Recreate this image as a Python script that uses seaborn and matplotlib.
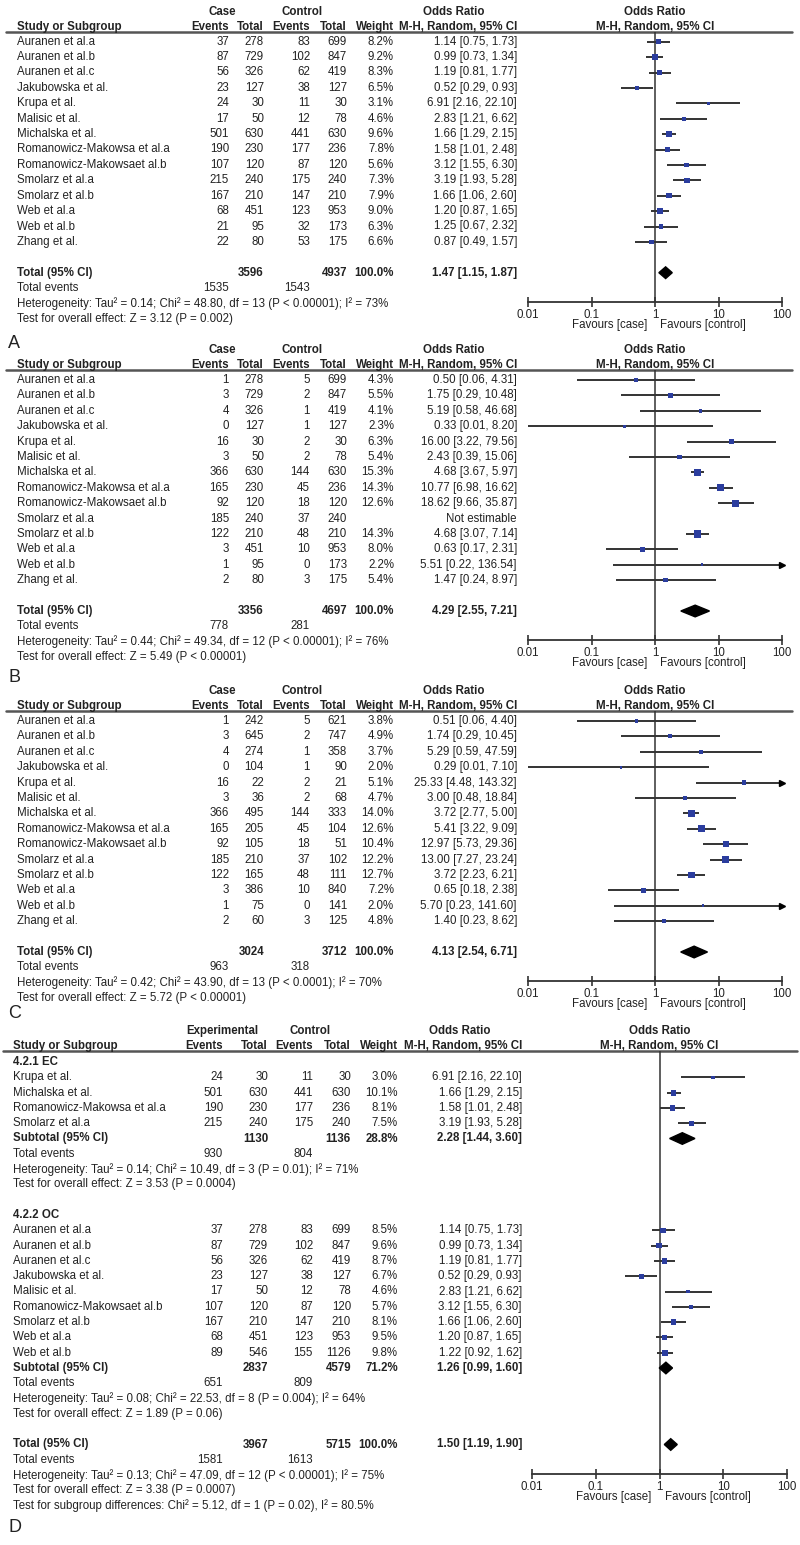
import numpy as np
import pandas as pd
import matplotlib
matplotlib.use("Agg")
import matplotlib.pyplot as plt
import seaborn as sns

W, H = 800, 1545
INK = "#222222"
LINE = "#333333"
BLUE = "#2b3d9e"
FS = 8.3

sns.set_theme(style="white")
plt.rcParams["font.family"] = ["Liberation Sans", "DejaVu Sans"]
plt.rcParams["font.size"] = FS

# --- shared study names (panels A-C) ---
studies = ["Auranen et al.a", "Auranen et al.b", "Auranen et al.c", "Jakubowska et al.",
           "Krupa et al.", "Malisic et al.", "Michalska et al.", "Romanowicz-Makowsa et al.a",
           "Romanowicz-Makowsaet al.b", "Smolarz et al.a", "Smolarz et al.b", "Web et al.a",
           "Web et al.b", "Zhang et al."]

# --- panel A ---
a_case_events = [37, 87, 56, 23, 24, 17, 501, 190, 107, 215, 167, 68, 21, 22]
a_case_total = [278, 729, 326, 127, 30, 50, 630, 230, 120, 240, 210, 451, 95, 80]
a_ctrl_events = [83, 102, 62, 38, 11, 12, 441, 177, 87, 175, 147, 123, 32, 53]
a_ctrl_total = [699, 847, 419, 127, 30, 78, 630, 236, 120, 240, 210, 953, 173, 175]
a_weight = [8.2, 9.2, 8.3, 6.5, 3.1, 4.6, 9.6, 7.8, 5.6, 7.3, 7.9, 9.0, 6.3, 6.6]
a_or = [1.14, 0.99, 1.19, 0.52, 6.91, 2.83, 1.66, 1.58, 3.12, 3.19, 1.66, 1.20, 1.25, 0.87]
a_lo = [0.75, 0.73, 0.81, 0.29, 2.16, 1.21, 1.29, 1.01, 1.55, 1.93, 1.06, 0.87, 0.67, 0.49]
a_hi = [1.73, 1.34, 1.77, 0.93, 22.10, 6.62, 2.15, 2.48, 6.30, 5.28, 2.60, 1.65, 2.32, 1.57]
a_total = [3596, 4937, 100.0, 1.47, 1.15, 1.87]
a_events = [1535, 1543]
a_notes = ["Heterogeneity: Tau² = 0.14; Chi² = 48.80, df = 13 (P < 0.00001); I² = 73%",
           "Test for overall effect: Z = 3.12 (P = 0.002)"]

# --- panel B ---
b_case_events = [1, 3, 4, 0, 16, 3, 366, 165, 92, 185, 122, 3, 1, 2]
b_case_total = [278, 729, 326, 127, 30, 50, 630, 230, 120, 240, 210, 451, 95, 80]
b_ctrl_events = [5, 2, 1, 1, 2, 2, 144, 45, 18, 37, 48, 10, 0, 3]
b_ctrl_total = [699, 847, 419, 127, 30, 78, 630, 236, 120, 240, 210, 953, 173, 175]
b_weight = [4.3, 5.5, 4.1, 2.3, 6.3, 5.4, 15.3, 14.3, 12.6, np.nan, 14.3, 8.0, 2.2, 5.4]
b_or = [0.50, 1.75, 5.19, 0.33, 16.00, 2.43, 4.68, 10.77, 18.62, np.nan, 4.68, 0.63, 5.51, 1.47]
b_lo = [0.06, 0.29, 0.58, 0.01, 3.22, 0.39, 3.67, 6.98, 9.66, np.nan, 3.07, 0.17, 0.22, 0.24]
b_hi = [4.31, 10.48, 46.68, 8.20, 79.56, 15.06, 5.97, 16.62, 35.87, np.nan, 7.14, 2.31, 136.54, 8.97]
b_total = [3356, 4697, 100.0, 4.29, 2.55, 7.21]
b_events = [778, 281]
b_notes = ["Heterogeneity: Tau² = 0.44; Chi² = 49.34, df = 12 (P < 0.00001); I² = 76%",
           "Test for overall effect: Z = 5.49 (P < 0.00001)"]

# --- panel C ---
c_case_events = [1, 3, 4, 0, 16, 3, 366, 165, 92, 185, 122, 3, 1, 2]
c_case_total = [242, 645, 274, 104, 22, 36, 495, 205, 105, 210, 165, 386, 75, 60]
c_ctrl_events = [5, 2, 1, 1, 2, 2, 144, 45, 18, 37, 48, 10, 0, 3]
c_ctrl_total = [621, 747, 358, 90, 21, 68, 333, 104, 51, 102, 111, 840, 141, 125]
c_weight = [3.8, 4.9, 3.7, 2.0, 5.1, 4.7, 14.0, 12.6, 10.4, 12.2, 12.7, 7.2, 2.0, 4.8]
c_or = [0.51, 1.74, 5.29, 0.29, 25.33, 3.00, 3.72, 5.41, 12.97, 13.00, 3.72, 0.65, 5.70, 1.40]
c_lo = [0.06, 0.29, 0.59, 0.01, 4.48, 0.48, 2.77, 3.22, 5.73, 7.27, 2.23, 0.18, 0.23, 0.23]
c_hi = [4.40, 10.45, 47.59, 7.10, 143.32, 18.84, 5.00, 9.09, 29.36, 23.24, 6.21, 2.38, 141.60, 8.62]
c_total = [3024, 3712, 100.0, 4.13, 2.54, 6.71]
c_events = [963, 318]
c_notes = ["Heterogeneity: Tau² = 0.42; Chi² = 43.90, df = 13 (P < 0.0001); I² = 70%",
           "Test for overall effect: Z = 5.72 (P < 0.00001)"]

# --- panel D, subgroup 4.2.1 EC ---
ec_studies = ["Krupa et al.", "Michalska et al.", "Romanowicz-Makowsa et al.a", "Smolarz et al.a"]
ec_case_events = [24, 501, 190, 215]
ec_case_total = [30, 630, 230, 240]
ec_ctrl_events = [11, 441, 177, 175]
ec_ctrl_total = [30, 630, 236, 240]
ec_weight = [3.0, 10.1, 8.1, 7.5]
ec_or = [6.91, 1.66, 1.58, 3.19]
ec_lo = [2.16, 1.29, 1.01, 1.93]
ec_hi = [22.10, 2.15, 2.48, 5.28]
ec_total = [1130, 1136, 28.8, 2.28, 1.44, 3.60]
ec_events = [930, 804]
ec_notes = ["Heterogeneity: Tau² = 0.14; Chi² = 10.49, df = 3 (P = 0.01); I² = 71%",
            "Test for overall effect: Z = 3.53 (P = 0.0004)"]

# --- panel D, subgroup 4.2.2 OC ---
oc_studies = ["Auranen et al.a", "Auranen et al.b", "Auranen et al.c", "Jakubowska et al.",
              "Malisic et al.", "Romanowicz-Makowsaet al.b", "Smolarz et al.b", "Web et al.a",
              "Web et al.b"]
oc_case_events = [37, 87, 56, 23, 17, 107, 167, 68, 89]
oc_case_total = [278, 729, 326, 127, 50, 120, 210, 451, 546]
oc_ctrl_events = [83, 102, 62, 38, 12, 87, 147, 123, 155]
oc_ctrl_total = [699, 847, 419, 127, 78, 120, 210, 953, 1126]
oc_weight = [8.5, 9.6, 8.7, 6.7, 4.6, 5.7, 8.1, 9.5, 9.8]
oc_or = [1.14, 0.99, 1.19, 0.52, 2.83, 3.12, 1.66, 1.20, 1.22]
oc_lo = [0.75, 0.73, 0.81, 0.29, 1.21, 1.55, 1.06, 0.87, 0.92]
oc_hi = [1.73, 1.34, 1.77, 0.93, 6.62, 6.30, 2.60, 1.65, 1.62]
oc_total = [2837, 4579, 71.2, 1.26, 0.99, 1.60]
oc_events = [651, 809]
oc_notes = ["Heterogeneity: Tau² = 0.08; Chi² = 22.53, df = 8 (P = 0.004); I² = 64%",
            "Test for overall effect: Z = 1.89 (P = 0.06)"]

d_total = [3967, 5715, 100.0, 1.50, 1.19, 1.90]
d_events = [1581, 1613]
d_notes = ["Heterogeneity: Tau² = 0.13; Chi² = 47.09, df = 12 (P < 0.00001); I² = 75%",
           "Test for overall effect: Z = 3.38 (P = 0.0007)",
           "Test for subgroup differences: Chi² = 5.12, df = 1 (P = 0.02), I² = 80.5%"]

tick_vals = [0.01, 0.1, 1, 10, 100]
tick_labels = ["0.01", "0.1", "1", "10", "100"]

COLS_ABC = dict(study=17, ev1=229, tot1=264, ev2=310, tot2=347, wt=394, orr=517,
                grp1=222, grp2=302, orhdr=454, line=(6, 792), fx=(528, 782))
COLS_D = dict(study=13, ev1=223, tot1=268, ev2=313, tot2=351, wt=398, orr=522,
              grp1=222, grp2=310, orhdr=460, line=(3, 797), fx=(532, 787))


def px_axes(fig, left, top, width, height):
    return fig.add_axes([left / W, 1 - (top + height) / H, width / W, height / H])


def txt(ax, x, y, s, ha="right", bold=False):
    ax.text(x, y, s, ha=ha, va="center", fontsize=FS, color=INK,
            fontweight="bold" if bold else "normal", clip_on=False)


def or_text(o, l, h):
    if np.isnan(o):
        return "Not estimable"
    return f"{o:.2f} [{l:.2f}, {h:.2f}]"


def make_table(fig, y0, step, r_top, r_bot):
    ax = px_axes(fig, 0, y0 + r_top * step, W, (r_bot - r_top) * step)
    ax.set_xlim(0, W)
    ax.set_ylim(r_bot, r_top)
    ax.axis("off")
    return ax


def draw_header(ax, cols, grp_label, r_line):
    r1, r2 = r_line - 1.32, r_line - 0.32
    fx = cols["fx"]
    mid = (fx[0] + fx[1]) / 2
    txt(ax, cols["grp1"], r1, grp_label, ha="center", bold=True)
    txt(ax, cols["grp2"], r1, "Control", ha="center", bold=True)
    txt(ax, cols["orhdr"], r1, "Odds Ratio", ha="center", bold=True)
    txt(ax, mid, r1, "Odds Ratio", ha="center", bold=True)
    txt(ax, cols["study"], r2, "Study or Subgroup", ha="left", bold=True)
    for key, lab in [("ev1", "Events"), ("tot1", "Total"), ("ev2", "Events"),
                     ("tot2", "Total"), ("wt", "Weight"), ("orr", "M-H, Random, 95% CI")]:
        txt(ax, cols[key], r2, lab, bold=True)
    txt(ax, mid, r2, "M-H, Random, 95% CI", ha="center", bold=True)
    ax.plot(cols["line"], [r_line, r_line], color="#555555", lw=1.8, clip_on=False)


def draw_studies(ax, cols, rows, names, ev1, tot1, ev2, tot2, wt, orr, lo, hi):
    for i, r in enumerate(rows):
        txt(ax, cols["study"], r, names[i], ha="left")
        txt(ax, cols["ev1"], r, str(ev1[i]))
        txt(ax, cols["tot1"], r, str(tot1[i]))
        txt(ax, cols["ev2"], r, str(ev2[i]))
        txt(ax, cols["tot2"], r, str(tot2[i]))
        if not np.isnan(wt[i]):
            txt(ax, cols["wt"], r, f"{wt[i]:.1f}%")
        txt(ax, cols["orr"], r, or_text(orr[i], lo[i], hi[i]))


def draw_summary(ax, cols, r, label, tot, events, notes):
    txt(ax, cols["study"], r, label, ha="left", bold=True)
    txt(ax, cols["tot1"], r, str(tot[0]), bold=True)
    txt(ax, cols["tot2"], r, str(tot[1]), bold=True)
    txt(ax, cols["wt"], r, f"{tot[2]:.1f}%", bold=True)
    txt(ax, cols["orr"], r, or_text(tot[3], tot[4], tot[5]), bold=True)
    txt(ax, cols["study"], r + 1, "Total events", ha="left")
    txt(ax, cols["ev1"], r + 1, str(events[0]))
    txt(ax, cols["ev2"], r + 1, str(events[1]))
    for k, note in enumerate(notes):
        txt(ax, cols["study"], r + 2 + k, note, ha="left")


def make_forest(fig, y0, step, cols, r_top, r_axis):
    fx = cols["fx"]
    ax = px_axes(fig, fx[0], y0 + r_top * step, fx[1] - fx[0], (r_axis - r_top) * step)
    ax.patch.set_alpha(0)
    return ax


def finish_forest(ax, r_top, r_axis):
    ax.set_xlim(-2, 2)
    ax.set_ylim(r_axis, r_top)
    ax.set_xlabel("")
    ax.set_ylabel("")
    for s in ["top", "left", "right"]:
        ax.spines[s].set_visible(False)
    ax.spines["bottom"].set_color(LINE)
    ax.spines["bottom"].set_linewidth(1.3)
    ax.set_xticks(np.log10(tick_vals))
    ax.set_xticklabels(tick_labels)
    ax.set_yticks([])
    ax.tick_params(axis="x", bottom=True, direction="inout", length=7, width=1.2,
                   color=LINE, pad=1.5, labelsize=FS, labelcolor=INK)
    ax.axvline(0, color=LINE, lw=1.1, zorder=1)
    r_fav = r_axis + 1.5
    ax.text(-0.12, r_fav, "Favours [case]", ha="right", va="center", fontsize=FS,
            color=INK, clip_on=False)
    ax.text(0.08, r_fav, "Favours [control]", ha="left", va="center", fontsize=FS,
            color=INK, clip_on=False)


def draw_points(ax, rows, wt, orr, lo, hi):
    df = pd.DataFrame({"x": np.log10(np.array(orr, float)), "y": rows,
                       "w": np.array(wt, float),
                       "lo": np.log10(np.array(lo, float)),
                       "hi": np.log10(np.array(hi, float))}).dropna()
    ax.hlines(df["y"], df["lo"], df["hi"].clip(upper=2), color=LINE, lw=1.4, zorder=2)
    over = df[df["hi"] > 2]
    ax.plot([2] * len(over), over["y"], ls="none", marker=">", ms=5, color="black",
            clip_on=False, zorder=3)
    sns.scatterplot(data=df, x="x", y="y", marker="s", s=df["w"].to_numpy() * 1.8,
                    color=BLUE, linewidth=0, legend=False, ax=ax, zorder=4)


def draw_diamond(ax, r, o, l, h, half=0.38):
    xs = np.log10([l, o, h, o])
    ax.fill(xs, [r, r - half, r, r + half], color="black", zorder=4)


fig = plt.figure(figsize=(W / 100, H / 100), dpi=100)
fig.patch.set_facecolor("white")

panels_abc = [
    (41.7, "A", 343, a_case_events, a_case_total, a_ctrl_events, a_ctrl_total, a_weight,
     a_or, a_lo, a_hi, a_total, a_events, a_notes),
    (380.0, "B", 677, b_case_events, b_case_total, b_ctrl_events, b_ctrl_total, b_weight,
     b_or, b_lo, b_hi, b_total, b_events, b_notes),
    (721.0, "C", 1013, c_case_events, c_case_total, c_ctrl_events, c_ctrl_total, c_weight,
     c_or, c_lo, c_hi, c_total, c_events, c_notes),
]

step = 15.4
for (y0, letter, ly, ev1, tot1, ev2, tot2, wt, orr, lo, hi, tot, events, notes) in panels_abc:
    cols = COLS_ABC
    tab = make_table(fig, y0, step, -3, 20)
    r_line = -0.63
    draw_header(tab, cols, "Case", r_line)
    rows = list(range(len(studies)))
    draw_studies(tab, cols, rows, studies, ev1, tot1, ev2, tot2, wt, orr, lo, hi)
    draw_summary(tab, cols, 15, "Total (95% CI)", tot, events, notes)
    r_axis = 16.9
    fp = make_forest(fig, y0, step, cols, r_line, r_axis)
    draw_points(fp, rows, wt, orr, lo, hi)
    draw_diamond(fp, 15, tot[3], tot[4], tot[5])
    finish_forest(fp, r_line, r_axis)
    fig.text(8 / W, 1 - ly / H, letter, fontsize=13, color=INK, va="center", ha="left")

# --- panel D ---
y0, step = 1062.0, 15.3
cols = COLS_D
tab = make_table(fig, y0, step, -3, 31)
r_line = -0.7
draw_header(tab, cols, "Experimental", r_line)
fp = make_forest(fig, y0, step, cols, r_line, 26.9)

txt(tab, cols["study"], 0, "4.2.1 EC", ha="left", bold=True)
ec_rows = [1, 2, 3, 4]
draw_studies(tab, cols, ec_rows, ec_studies, ec_case_events, ec_case_total, ec_ctrl_events,
             ec_ctrl_total, ec_weight, ec_or, ec_lo, ec_hi)
draw_summary(tab, cols, 5, "Subtotal (95% CI)", ec_total, ec_events, ec_notes)
draw_points(fp, ec_rows, ec_weight, ec_or, ec_lo, ec_hi)
draw_diamond(fp, 5, ec_total[3], ec_total[4], ec_total[5])

txt(tab, cols["study"], 10, "4.2.2 OC", ha="left", bold=True)
oc_rows = list(range(11, 20))
draw_studies(tab, cols, oc_rows, oc_studies, oc_case_events, oc_case_total, oc_ctrl_events,
             oc_ctrl_total, oc_weight, oc_or, oc_lo, oc_hi)
draw_summary(tab, cols, 20, "Subtotal (95% CI)", oc_total, oc_events, oc_notes)
draw_points(fp, oc_rows, oc_weight, oc_or, oc_lo, oc_hi)
draw_diamond(fp, 20, oc_total[3], oc_total[4], oc_total[5])

draw_summary(tab, cols, 25, "Total (95% CI)", d_total, d_events, d_notes)
draw_diamond(fp, 25, d_total[3], d_total[4], d_total[5])
finish_forest(fp, r_line, 26.9)
fig.text(8 / W, 1 - 1528 / H, "D", fontsize=13, color=INK, va="center", ha="left")

fig.savefig("out.png", dpi=100, facecolor="white")
